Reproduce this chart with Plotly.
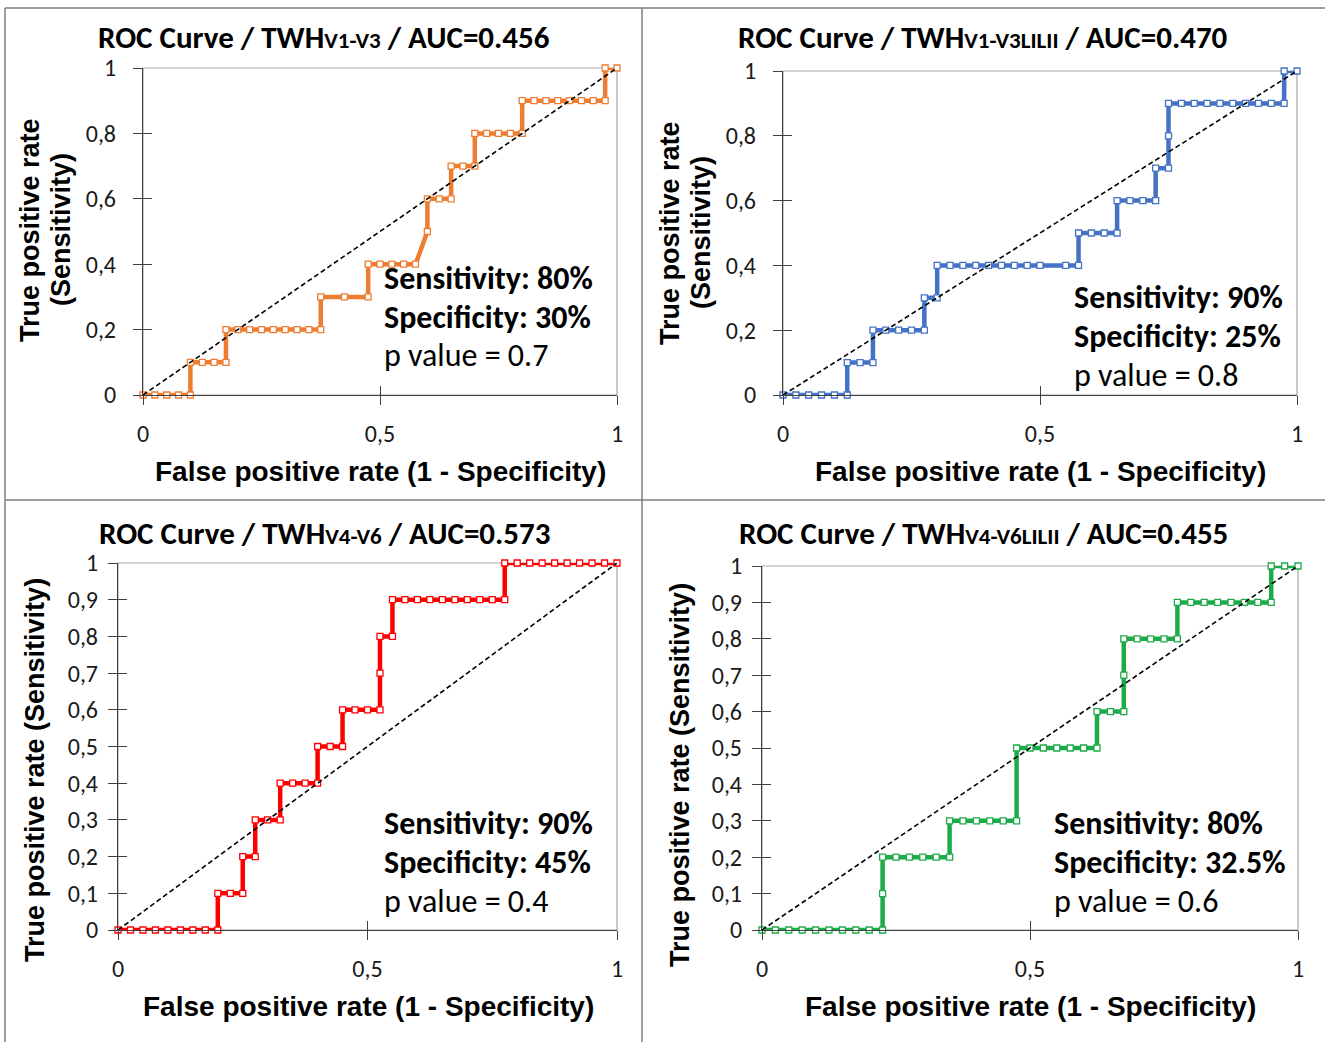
import plotly.graph_objects as go

# ---------------- data ----------------
titles = [
    ("V1-V3", "0.456"),
    ("V1-V3LILII", "0.470"),
    ("V4-V6", "0.573"),
    ("V4-V6LILII", "0.455"),
]
stats = [
    ("80%", "30%", "0.7"),
    ("90%", "25%", "0.8"),
    ("90%", "45%", "0.4"),
    ("80%", "32.5%", "0.6"),
]
colors = ["#ED7D31", "#4472C4", "#FF0000", "#1DAA48"]

fpr_1 = [0, 0.025, 0.05, 0.075, 0.1,
         0.1, 0.125, 0.15, 0.175,
         0.175, 0.2, 0.225, 0.25, 0.275, 0.3, 0.325, 0.35, 0.375,
         0.375, 0.425, 0.475,
         0.475, 0.5, 0.525, 0.55, 0.575,
         0.6,
         0.6, 0.625, 0.65,
         0.65, 0.675, 0.7,
         0.7, 0.725, 0.75, 0.775, 0.8,
         0.8, 0.825, 0.85, 0.875, 0.9, 0.925, 0.95, 0.975,
         0.975, 1.0]
tpr_1 = [0, 0, 0, 0, 0,
         0.1, 0.1, 0.1, 0.1,
         0.2, 0.2, 0.2, 0.2, 0.2, 0.2, 0.2, 0.2, 0.2,
         0.3, 0.3, 0.3,
         0.4, 0.4, 0.4, 0.4, 0.4,
         0.5,
         0.6, 0.6, 0.6,
         0.7, 0.7, 0.7,
         0.8, 0.8, 0.8, 0.8, 0.8,
         0.9, 0.9, 0.9, 0.9, 0.9, 0.9, 0.9, 0.9,
         1.0, 1.0]

fpr_2 = [0, 0.025, 0.05, 0.075, 0.1, 0.125,
         0.125, 0.15, 0.175,
         0.175, 0.2, 0.225, 0.25, 0.275,
         0.275, 0.3,
         0.3, 0.325, 0.35, 0.375, 0.4, 0.425, 0.45, 0.475, 0.5, 0.55, 0.575,
         0.575, 0.6, 0.625, 0.65,
         0.65, 0.675, 0.7, 0.725,
         0.725, 0.75,
         0.75,
         0.75, 0.775, 0.8, 0.825, 0.85, 0.875, 0.9, 0.925, 0.95, 0.975,
         0.975, 1.0]
tpr_2 = [0, 0, 0, 0, 0, 0,
         0.1, 0.1, 0.1,
         0.2, 0.2, 0.2, 0.2, 0.2,
         0.3, 0.3,
         0.4, 0.4, 0.4, 0.4, 0.4, 0.4, 0.4, 0.4, 0.4, 0.4, 0.4,
         0.5, 0.5, 0.5, 0.5,
         0.6, 0.6, 0.6, 0.6,
         0.7, 0.7,
         0.8,
         0.9, 0.9, 0.9, 0.9, 0.9, 0.9, 0.9, 0.9, 0.9, 0.9,
         1.0, 1.0]

fpr_3 = [0, 0.025, 0.05, 0.075, 0.1, 0.125, 0.15, 0.175, 0.2,
         0.2, 0.225, 0.25,
         0.25, 0.275,
         0.275, 0.3, 0.325,
         0.325, 0.35, 0.375, 0.4,
         0.4, 0.425, 0.45,
         0.45, 0.475, 0.5, 0.525,
         0.525,
         0.525, 0.55,
         0.55, 0.575, 0.6, 0.625, 0.65, 0.675, 0.7, 0.725, 0.75, 0.775,
         0.775, 0.8, 0.825, 0.85, 0.875, 0.9, 0.925, 0.95, 0.975, 1.0]
tpr_3 = [0, 0, 0, 0, 0, 0, 0, 0, 0,
         0.1, 0.1, 0.1,
         0.2, 0.2,
         0.3, 0.3, 0.3,
         0.4, 0.4, 0.4, 0.4,
         0.5, 0.5, 0.5,
         0.6, 0.6, 0.6, 0.6,
         0.7,
         0.8, 0.8,
         0.9, 0.9, 0.9, 0.9, 0.9, 0.9, 0.9, 0.9, 0.9, 0.9,
         1.0, 1.0, 1.0, 1.0, 1.0, 1.0, 1.0, 1.0, 1.0, 1.0]

fpr_4 = [0, 0.025, 0.05, 0.075, 0.1, 0.125, 0.15, 0.175, 0.2, 0.225,
         0.225,
         0.225, 0.25, 0.275, 0.3, 0.325, 0.35,
         0.35, 0.375, 0.4, 0.425, 0.45, 0.475,
         0.475, 0.5, 0.525, 0.55, 0.575, 0.6, 0.625,
         0.625, 0.65, 0.675,
         0.675,
         0.675, 0.7, 0.725, 0.75, 0.775,
         0.775, 0.8, 0.825, 0.85, 0.875, 0.9, 0.925, 0.95,
         0.95, 0.975, 1.0]
tpr_4 = [0, 0, 0, 0, 0, 0, 0, 0, 0, 0,
         0.1,
         0.2, 0.2, 0.2, 0.2, 0.2, 0.2,
         0.3, 0.3, 0.3, 0.3, 0.3, 0.3,
         0.5, 0.5, 0.5, 0.5, 0.5, 0.5, 0.5,
         0.6, 0.6, 0.6,
         0.7,
         0.8, 0.8, 0.8, 0.8, 0.8,
         0.9, 0.9, 0.9, 0.9, 0.9, 0.9, 0.9, 0.9,
         1.0, 1.0, 1.0]

fprs = [fpr_1, fpr_2, fpr_3, fpr_4]
tprs = [tpr_1, tpr_2, tpr_3, tpr_4]
diag = [0, 1]
x_ticks = [0, 0.5, 1]
y_ticks_coarse = [0, 0.2, 0.4, 0.6, 0.8, 1]
y_ticks_fine = [0, 0.1, 0.2, 0.3, 0.4, 0.5, 0.6, 0.7, 0.8, 0.9, 1]

# ---------------- layout geometry ----------------
W, H = 1325, 1042
def px(x): return x / W
def py(y): return 1 - y / H

def ax_id(n):
    return "" if n == 1 else str(n)

# plot areas in pixels: (x0, x1, ybottom, ytop)
areas = [(143, 617, 395, 68), (783, 1297, 395, 71),
         (118, 617, 930, 563), (762, 1298, 930, 566)]
ylab_standoff = [12, 12, 5, 5]

CAL = "Calibri, Carlito, Lato, sans-serif"
ARB = "Arial, Liberation Sans, sans-serif"

fig = go.Figure()
layout = dict(width=W, height=H, autosize=False,
              margin=dict(l=0, r=0, t=0, b=0, pad=0, autoexpand=False),
              paper_bgcolor="white", plot_bgcolor="white", template="none",
              showlegend=False, separators=",.")
annotations = []
shapes = []

for i in range(4):
    n = ax_id(i + 1)
    ov = ax_id(i + 5)
    x0, x1, yb, yt = areas[i]
    xd = [px(x0), px(x1)]
    yd = [py(yb), py(yt)]
    yt_vals = y_ticks_coarse if i < 2 else y_ticks_fine
    common = dict(range=[0, 1], showgrid=False, zeroline=False, automargin=False,
                  linecolor="#404040", linewidth=1.3, tickcolor="#404040",
                  tickwidth=1.3, ticklen=9, fixedrange=True)
    layout[f"xaxis{n}"] = dict(domain=xd, anchor=f"y{n}", tickvals=x_ticks,
                               ticks="outside", showline=True,
                               tickfont=dict(family=CAL, size=24, color="#1a1a1a"),
                               ticklabelstandoff=8, **common)
    layout[f"yaxis{n}"] = dict(domain=yd, anchor=f"x{n}", tickvals=yt_vals,
                               ticks="outside", showline=True,
                               tickfont=dict(family=CAL, size=24, color="#1a1a1a"),
                               ticklabelstandoff=ylab_standoff[i], **common)
    layout[f"xaxis{ov}"] = dict(domain=xd, anchor=f"y{ov}", overlaying=f"x{n}",
                                tickvals=x_ticks, ticks="inside", showline=False,
                                showticklabels=False, **common)
    layout[f"yaxis{ov}"] = dict(domain=yd, anchor=f"x{ov}", overlaying=f"y{n}",
                                tickvals=yt_vals, ticks="inside", showline=False,
                                showticklabels=False, **common)

    # frame (top/right light gray)
    shapes.append(dict(type="rect", xref=f"x{n} domain", yref=f"y{n} domain",
                       x0=0, x1=1, y0=0, y1=1,
                       line=dict(color="#a6a6a6", width=1.2), layer="below"))

    fig.add_trace(go.Scatter(
        x=fprs[i], y=tprs[i], mode="lines+markers",
        line=dict(color=colors[i], width=4.5),
        marker=dict(symbol="square", size=6, color="white",
                    line=dict(color=colors[i], width=1.3)),
        cliponaxis=False, xaxis=f"x{n}", yaxis=f"y{n}"))
    fig.add_trace(go.Scatter(
        x=diag, y=diag, mode="lines",
        line=dict(color="black", width=1.6, dash="5px,3px"),
        xaxis=f"x{ov}", yaxis=f"y{ov}"))

    sub, auc = titles[i]
    title_x = [324, 983, 324, 983][i]
    title_y = [37, 37, 533, 533][i]
    annotations.append(dict(
        x=px(title_x), y=py(title_y), xref="paper", yref="paper",
        xanchor="center", yanchor="middle", showarrow=False,
        text=f"<b>ROC Curve / TWH<span style='font-size:23px'>{sub}</span> / AUC={auc}</b>",
        font=dict(family=CAL, size=31, color="black")))

    # stats text
    sx = [382, 1072, 382, 1052][i]
    sy = [278, 297, 823, 823][i]
    sens, spec, pval = stats[i]
    lines = [f"<b>Sensitivity: {sens}</b>", f"<b>Specificity: {spec}</b>",
             f"p value = {pval}"]
    for k, t in enumerate(lines):
        annotations.append(dict(
            x=px(sx), y=py(sy + 39 * k), xref="paper", yref="paper",
            xanchor="left", yanchor="middle", showarrow=False, text=t,
            font=dict(family=CAL, size=32, color="black")))

    # x-axis title
    xtx = [380, 1040, 368, 1030][i]
    xty = [471, 471, 1006, 1006][i]
    annotations.append(dict(
        x=px(xtx), y=py(xty), xref="paper", yref="paper",
        xanchor="center", yanchor="middle", showarrow=False,
        text="<b>False positive rate (1 - Specificity)</b>",
        font=dict(family=ARB, size=28, color="black")))

    # y-axis title
    if i < 2:
        ylx = [(30, 61), (670, 701)][i]
        ycy = [230, 233][i]
        annotations.append(dict(
            x=px(ylx[0]), y=py(ycy), xref="paper", yref="paper",
            xanchor="center", yanchor="middle", showarrow=False, textangle=-90,
            text="<b>True positive rate</b>",
            font=dict(family=ARB, size=27, color="black")))
        annotations.append(dict(
            x=px(ylx[1]), y=py(ycy), xref="paper", yref="paper",
            xanchor="center", yanchor="middle", showarrow=False, textangle=-90,
            text="<b>(Sensitivity)</b>",
            font=dict(family=ARB, size=27, color="black")))
    else:
        ylx = [35, 680][i - 2]
        ycy = [770, 775][i - 2]
        annotations.append(dict(
            x=px(ylx), y=py(ycy), xref="paper", yref="paper",
            xanchor="center", yanchor="middle", showarrow=False, textangle=-90,
            text="<b>True positive rate (Sensitivity)</b>",
            font=dict(family=ARB, size=27, color="black")))

# outer panel separators
frame_col = "#7f7f7f"
for (a, b, c, d) in [(5, 8, 1325, 8), (5, 8, 5, 1042), (642, 8, 642, 1042),
                     (5, 500, 1325, 500)]:
    shapes.append(dict(type="line", xref="paper", yref="paper",
                       x0=px(a), y0=py(b), x1=px(c), y1=py(d),
                       line=dict(color=frame_col, width=1.5)))

layout["annotations"] = annotations
layout["shapes"] = shapes
fig.update_layout(**layout)
fig.write_html("out.html",
               config={"displayModeBar": False},
               post_script="document.body.style.margin='0';"
                           "document.body.style.overflow='hidden';")
